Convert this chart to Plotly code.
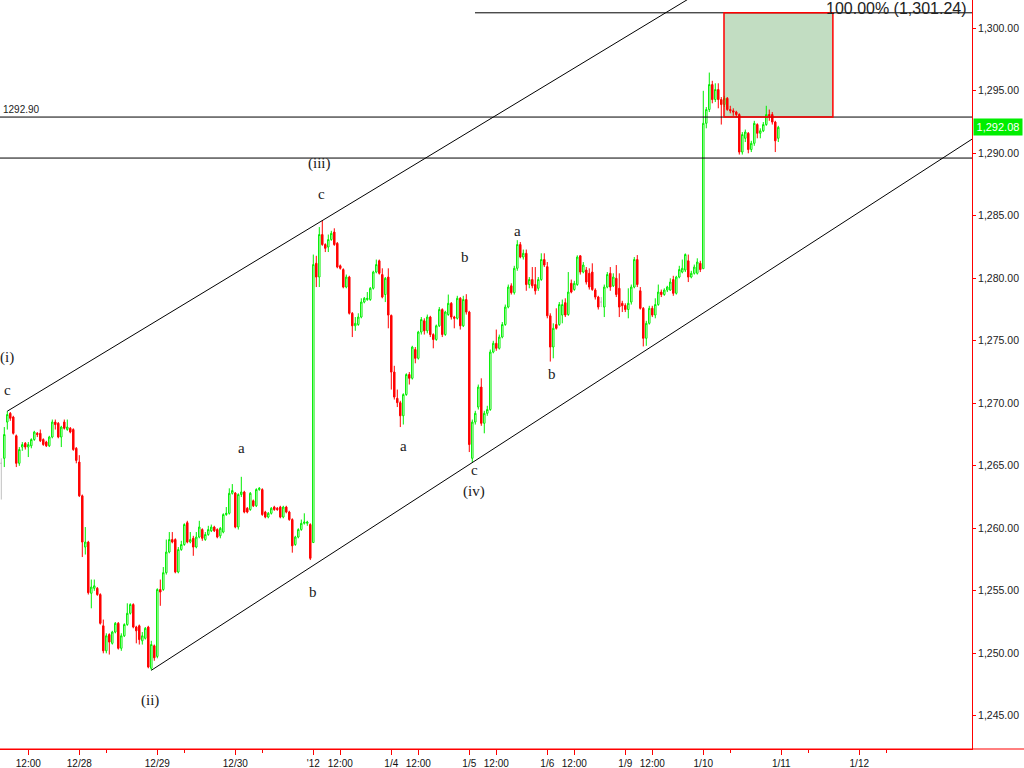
import plotly.graph_objects as go

# ---------------- data: 15-minute bars, 12/27/2011 - 1/10/2012 ----------------
OPEN = [
    1265.2, 1265.6, 1268.5, 1269.2, 1268.9, 1267.4, 1265.2, 1266.5, 1266.8, 1266.5, 1266.6, 1267.1, 1267.6,
    1267.6, 1267.1, 1266.9, 1266.6, 1267.3, 1268.5, 1268.4, 1267.3, 1268.5, 1267.9, 1268.0, 1267.9, 1266.4,
    1265.3, 1262.6, 1258.5, 1258.9, 1254.8, 1255.2, 1255.2, 1254.7, 1252.2, 1250.2, 1251.5, 1250.8, 1251.7,
    1252.4, 1250.4, 1251.4, 1252.3, 1253.2, 1253.9, 1252.1, 1252.2, 1251.0, 1251.2, 1252.1, 1248.8, 1250.6,
    1249.75, 1255.1, 1255.1, 1256.45, 1258.1, 1259.1, 1259.1, 1256.5, 1258.3, 1258.7, 1260.45, 1258.9, 1259.2,
    1258.5, 1259.3, 1259.9, 1259.1, 1259.5, 1259.8, 1260.1, 1259.9, 1259.4, 1259.7, 1261.1, 1261.2, 1262.8,
    1262.82, 1260.1, 1262.7, 1262.9, 1261.6, 1261.5, 1262.2, 1261.8, 1263.1, 1263.1, 1261.3, 1260.9, 1261.2,
    1261.7, 1261.6, 1261.7, 1260.9, 1261.7, 1261.3, 1260.7, 1258.7, 1259.3, 1259.9, 1260.4, 1260.4, 1260.3,
    1258.86, 1281.2, 1280.1, 1283.5, 1282.7, 1282.5, 1283.1, 1283.7, 1282.8, 1281.0, 1280.7, 1279.3, 1280.1,
    1277.2, 1276.2, 1276.3, 1276.9, 1278.1, 1278.3, 1278.3, 1279.2, 1280.5, 1281.4, 1280.3, 1278.7, 1280.1,
    1277.03, 1272.5, 1270.4, 1270.05, 1269.0, 1270.7, 1272.3, 1272.0, 1274.3, 1273.6, 1275.7, 1276.6, 1275.8,
    1276.9, 1275.5, 1275.1, 1276.2, 1277.5, 1275.5, 1277.1, 1278.0, 1276.9, 1276.8, 1278.4, 1276.2, 1278.3,
    1277.3, 1265.6, 1268.5, 1269.7, 1271.3, 1268.4, 1269.2, 1269.5, 1274.1, 1274.8, 1274.4, 1275.3, 1276.3,
    1277.7, 1279.4, 1278.85, 1280.8, 1282.7, 1281.7, 1282.0, 1279.5, 1279.9, 1279.5, 1279.2, 1279.9, 1281.5,
    1280.93, 1277.0, 1274.5, 1276.3, 1276.3, 1277.06, 1278.05, 1277.1, 1279.6, 1279.1, 1279.5, 1281.8, 1280.5,
    1280.66, 1280.4, 1280.5, 1279.06, 1278.5, 1278.1, 1277.7, 1279.3, 1280.4, 1279.4, 1280.0, 1279.2, 1278.0,
    1277.83, 1277.5, 1278.1, 1279.3, 1281.5, 1279.0, 1277.6, 1275.2, 1276.4, 1277.6, 1277.06, 1277.9, 1278.9,
    1278.7, 1279.06, 1279.06, 1279.9, 1278.8, 1280.1, 1280.5, 1280.66, 1281.4, 1280.1, 1280.4, 1280.4, 1281.2,
    1280.77, 1292.4, 1293.5, 1295.5, 1294.3, 1295.1, 1294.3, 1293.9, 1294.4, 1293.5, 1293.4, 1293.3, 1293.1,
    1290.1, 1291.2, 1291.6, 1290.3, 1290.8, 1292.3, 1291.6, 1291.8, 1292.3, 1293.1, 1293.1, 1292.5, 1291.2,
]
HIGH = [
    1265.6, 1268.1, 1269.37, 1269.3, 1269.0, 1267.5, 1266.5, 1266.9, 1266.9, 1266.9, 1267.2, 1267.8, 1267.7,
    1267.9, 1267.2, 1267.0, 1267.4, 1268.7, 1268.7, 1268.5, 1268.2, 1268.7, 1268.7, 1268.1, 1268.0, 1266.5,
    1265.85, 1262.7, 1260.1, 1259.0, 1255.9, 1255.9, 1255.3, 1254.8, 1252.7, 1251.6, 1251.6, 1251.8, 1252.5,
    1252.5, 1251.6, 1252.4, 1254.0, 1254.0, 1254.0, 1252.2, 1252.3, 1251.7, 1252.1, 1252.2, 1251.0, 1250.7,
    1255.2, 1255.9, 1256.9, 1259.1, 1259.7, 1259.7, 1259.2, 1258.5, 1259.0, 1260.4, 1260.6, 1259.7, 1259.4,
    1259.7, 1260.6, 1260.0, 1259.7, 1260.2, 1260.3, 1260.2, 1260.0, 1260.1, 1261.2, 1261.7, 1263.2, 1263.54,
    1262.9, 1262.8, 1264.12, 1263.0, 1261.7, 1262.9, 1262.3, 1263.2, 1263.3, 1263.2, 1261.4, 1261.3, 1261.7,
    1261.8, 1261.7, 1261.8, 1261.8, 1261.8, 1261.4, 1260.8, 1259.4, 1260.0, 1260.7, 1261.2, 1260.6, 1260.4,
    1281.9, 1281.8, 1284.1, 1284.62, 1282.8, 1283.5, 1283.8, 1284.0, 1282.9, 1281.1, 1280.8, 1280.3, 1280.2,
    1277.3, 1276.9, 1277.2, 1278.4, 1278.5, 1278.9, 1279.3, 1280.6, 1281.5, 1281.5, 1280.8, 1280.1, 1280.8,
    1277.1, 1273.0, 1271.1, 1270.2, 1270.8, 1272.4, 1272.5, 1274.6, 1274.5, 1275.8, 1276.9, 1276.8, 1277.1,
    1277.0, 1275.6, 1276.3, 1277.7, 1277.6, 1277.4, 1278.7, 1278.1, 1277.0, 1278.6, 1278.5, 1278.6, 1278.73,
    1277.4, 1268.7, 1269.4, 1271.5, 1272.0, 1269.4, 1269.8, 1274.3, 1275.0, 1275.9, 1275.5, 1276.5, 1277.9,
    1279.5, 1279.6, 1281.0, 1283.05, 1282.9, 1282.3, 1282.3, 1280.1, 1280.9, 1280.9, 1280.1, 1282.0, 1282.0,
    1281.3, 1277.2, 1276.4, 1277.6, 1278.1, 1278.3, 1278.4, 1280.5, 1279.9, 1279.8, 1281.84, 1281.84, 1281.3,
    1280.9, 1280.8, 1281.2, 1279.2, 1278.6, 1278.5, 1279.5, 1280.5, 1280.9, 1280.4, 1281.06, 1280.4, 1278.2,
    1278.0, 1279.2, 1279.5, 1281.7, 1281.86, 1279.3, 1277.7, 1276.6, 1277.8, 1277.8, 1278.4, 1279.5, 1279.1,
    1279.2, 1279.4, 1280.0, 1280.2, 1280.2, 1281.0, 1281.5, 1281.99, 1281.9, 1280.6, 1281.1, 1281.6, 1281.4,
    1295.0, 1293.7, 1296.46, 1295.8, 1295.6, 1295.6, 1294.5, 1294.6, 1294.5, 1293.8, 1293.6, 1293.4, 1293.2,
    1291.7, 1291.9, 1291.7, 1291.0, 1292.6, 1292.4, 1292.0, 1292.5, 1293.8, 1293.5, 1293.3, 1292.6, 1292.2,
]
LOW = [
    1262.3, 1264.9, 1267.9, 1268.6, 1267.5, 1264.9, 1265.0, 1266.2, 1266.3, 1265.7, 1266.4, 1267.0, 1267.3,
    1266.9, 1266.6, 1266.5, 1266.5, 1267.2, 1267.9, 1267.2, 1266.5, 1267.9, 1267.8, 1267.6, 1266.2, 1265.2,
    1262.5, 1257.7, 1257.9, 1254.7, 1253.6, 1255.0, 1254.6, 1252.3, 1250.0, 1250.0, 1249.9, 1250.7, 1251.6,
    1250.3, 1250.2, 1251.3, 1252.2, 1253.1, 1252.0, 1250.8, 1250.7, 1250.7, 1251.1, 1248.8, 1248.64, 1249.4,
    1249.6, 1253.8, 1255.0, 1256.3, 1258.0, 1258.8, 1256.4, 1256.4, 1258.2, 1258.6, 1258.8, 1258.8, 1257.8,
    1258.4, 1259.2, 1259.0, 1259.0, 1259.4, 1259.7, 1259.7, 1259.2, 1259.2, 1259.6, 1261.0, 1261.1, 1262.7,
    1260.0, 1259.9, 1262.5, 1261.2, 1261.2, 1261.4, 1261.7, 1261.7, 1263.0, 1261.0, 1260.8, 1260.8, 1261.1,
    1261.4, 1261.4, 1260.8, 1260.8, 1261.2, 1260.6, 1258.05, 1258.6, 1259.2, 1259.8, 1260.3, 1260.2, 1257.46,
    1258.86, 1279.3, 1279.3, 1282.6, 1282.1, 1282.1, 1283.0, 1282.6, 1280.8, 1280.7, 1279.2, 1279.2, 1277.1,
    1275.3, 1275.8, 1276.2, 1276.8, 1278.0, 1278.2, 1278.2, 1279.1, 1280.4, 1280.3, 1278.4, 1278.1, 1276.0,
    1271.1, 1270.3, 1269.7, 1268.1, 1268.3, 1270.6, 1271.5, 1271.9, 1273.2, 1273.5, 1275.5, 1275.5, 1275.6,
    1275.3, 1274.4, 1275.0, 1276.1, 1275.3, 1275.4, 1277.0, 1276.7, 1276.0, 1276.7, 1275.9, 1276.1, 1277.1,
    1266.1, 1265.26, 1268.3, 1269.5, 1268.2, 1267.6, 1269.0, 1269.4, 1274.0, 1274.2, 1274.3, 1275.2, 1276.2,
    1277.6, 1278.7, 1278.7, 1280.6, 1281.6, 1281.5, 1279.0, 1279.2, 1279.2, 1278.7, 1279.0, 1279.8, 1280.9,
    1276.8, 1273.34, 1273.6, 1275.9, 1276.2, 1276.4, 1276.9, 1277.0, 1278.8, 1279.0, 1279.4, 1280.3, 1280.4,
    1279.5, 1279.1, 1279.0, 1278.3, 1277.5, 1277.7, 1276.9, 1279.2, 1279.0, 1279.3, 1278.5, 1276.9, 1277.3,
    1277.3, 1276.8, 1277.9, 1279.2, 1279.3, 1277.5, 1274.55, 1274.6, 1276.3, 1276.9, 1276.8, 1277.8, 1278.5,
    1278.6, 1278.9, 1279.0, 1278.6, 1278.7, 1280.0, 1280.4, 1280.5, 1279.7, 1280.0, 1280.3, 1280.3, 1280.5,
    1280.77, 1292.0, 1293.3, 1294.0, 1294.1, 1293.6, 1292.3, 1293.7, 1293.4, 1293.2, 1293.0, 1292.9, 1289.9,
    1289.9, 1290.9, 1290.0, 1290.1, 1290.6, 1291.2, 1291.2, 1291.7, 1292.2, 1292.6, 1292.3, 1290.1, 1290.9,
]
CLOSE = [
    1265.2, 1267.5, 1269.1, 1268.8, 1267.6, 1265.2, 1266.3, 1266.7, 1266.5, 1266.7, 1267.1, 1267.7, 1267.5,
    1267.0, 1266.7, 1266.6, 1267.3, 1268.5, 1268.3, 1267.3, 1268.1, 1268.0, 1268.1, 1267.7, 1266.3, 1265.43,
    1262.6, 1258.9, 1258.9, 1254.85, 1255.3, 1255.4, 1254.7, 1252.4, 1250.2, 1251.4, 1250.9, 1251.7, 1252.4,
    1250.4, 1251.4, 1252.3, 1253.2, 1253.9, 1252.1, 1251.8, 1251.1, 1251.4, 1252.0, 1248.9, 1250.7, 1249.64,
    1255.1, 1254.9, 1256.45, 1258.1, 1259.1, 1258.9, 1256.5, 1258.3, 1258.7, 1260.3, 1258.9, 1259.1, 1258.5,
    1259.3, 1260.1, 1259.2, 1259.5, 1259.9, 1260.1, 1259.8, 1259.3, 1260.0, 1261.1, 1261.2, 1262.8, 1263.02,
    1260.1, 1262.7, 1262.9, 1261.3, 1261.3, 1262.8, 1261.8, 1263.1, 1263.2, 1261.1, 1260.9, 1261.2, 1261.6,
    1261.5, 1261.5, 1260.9, 1261.7, 1261.3, 1260.7, 1258.6, 1259.3, 1259.9, 1260.4, 1260.5, 1260.5, 1257.6,
    1281.1, 1280.1, 1283.5, 1282.7, 1282.4, 1283.1, 1283.6, 1282.7, 1280.9, 1280.8, 1279.3, 1280.1, 1277.2,
    1276.2, 1276.4, 1276.9, 1278.1, 1278.4, 1278.4, 1279.2, 1280.5, 1281.1, 1280.4, 1278.5, 1280.0, 1277.06,
    1272.5, 1270.5, 1270.05, 1269.0, 1270.7, 1272.3, 1272.0, 1274.5, 1273.6, 1275.7, 1276.7, 1275.8, 1276.9,
    1275.5, 1275.1, 1276.2, 1277.5, 1275.5, 1277.3, 1278.0, 1276.9, 1276.8, 1278.4, 1276.2, 1278.3, 1277.3,
    1266.7, 1268.5, 1269.2, 1271.3, 1268.4, 1269.2, 1269.5, 1274.1, 1274.8, 1274.4, 1275.3, 1276.3, 1277.7,
    1279.3, 1278.85, 1280.8, 1282.7, 1281.7, 1282.0, 1279.5, 1279.9, 1279.4, 1279.0, 1279.9, 1281.5, 1281.06,
    1277.0, 1274.5, 1276.0, 1276.0, 1277.9, 1277.9, 1277.06, 1278.9, 1278.9, 1279.6, 1281.7, 1280.5, 1281.06,
    1279.7, 1279.3, 1279.1, 1278.5, 1277.7, 1278.1, 1279.3, 1280.3, 1279.3, 1280.1, 1278.7, 1277.7, 1277.81,
    1277.5, 1278.0, 1279.3, 1281.5, 1279.5, 1277.6, 1275.2, 1276.4, 1277.6, 1277.06, 1277.9, 1278.9, 1278.7,
    1279.06, 1279.3, 1279.7, 1278.8, 1280.1, 1280.7, 1280.8, 1281.9, 1280.1, 1280.4, 1280.9, 1281.3, 1280.70,
    1292.4, 1293.5, 1295.5, 1294.3, 1295.1, 1294.3, 1293.9, 1294.4, 1293.5, 1293.4, 1293.3, 1293.1, 1290.1,
    1291.5, 1291.7, 1290.3, 1290.8, 1292.4, 1291.6, 1291.8, 1292.3, 1293.1, 1293.0, 1292.5, 1291.0, 1292.08,
]

BARS_PER_DAY = 26
DAY_LABELS = ["12/27", "12/28", "12/29", "12/30", "'12", "1/4", "1/5", "1/6", "1/9", "1/10", "1/11", "1/12"]
SHOW_DAY_LABEL = [False, True, True, True, True, True, True, True, True, True, True, True]
SHOW_NOON_LABEL = [True, False, False, False, True, True, True, True, True, False, False, False]

LEVEL_TARGET = 1301.24      # 100% projection
LEVEL_MID = 1292.90
LEVEL_LOW = 1289.62
LAST_PRICE = CLOSE[-1]

WAVE_LABELS = [
    ("(i)", 2, 1273.7), ("c", 2, 1271.06),
    ("(ii)", 49.6, 1246.26),
    ("a", 80, 1266.42), ("b", 104, 1254.9),
    ("(iii)", 106.2, 1289.22), ("c", 106.6, 1286.74),
    ("a", 134, 1266.58), ("b", 154.6, 1281.7),
    ("c", 157.6, 1264.66), ("(iv)", 157.6, 1262.98),
    ("a", 172, 1283.78), ("b", 183.6, 1272.34),
]

GREEN = "#00ee00"
RED = "#ff0000"
GRAY = "#c0c0c0"

X = list(range(len(OPEN)))
XR = [-0.433, 323.57]
YR = [1242.344, 1302.264]

norm = [i for i in X if OPEN[i] != CLOSE[i]]
doji = [i for i in X if OPEN[i] == CLOSE[i]]

fig = go.Figure()
fig.add_trace(go.Candlestick(
    x=[X[i] for i in norm], open=[OPEN[i] for i in norm], high=[HIGH[i] for i in norm],
    low=[LOW[i] for i in norm], close=[CLOSE[i] for i in norm],
    increasing=dict(line=dict(color=GREEN, width=1), fillcolor="white"),
    decreasing=dict(line=dict(color=RED, width=1), fillcolor=RED),
    whiskerwidth=0, hoverinfo="skip", showlegend=False,
))
fig.add_trace(go.Candlestick(
    x=[X[i] for i in doji], open=[OPEN[i] for i in doji], high=[HIGH[i] for i in doji],
    low=[LOW[i] for i in doji], close=[CLOSE[i] for i in doji],
    increasing=dict(line=dict(color=GRAY, width=1), fillcolor="white"),
    decreasing=dict(line=dict(color=GRAY, width=1), fillcolor=GRAY),
    whiskerwidth=0, hoverinfo="skip", showlegend=False,
))

# ---- channel lines from pivot bars ----
up_a, up_b = 2, 107
lo_a, lo_b = 50, 157
up_slope = (HIGH[up_b] - HIGH[up_a]) / (up_b - up_a)
lo_slope = (LOW[lo_b] - LOW[lo_a]) / (lo_b - lo_a)
up_end = 250
lo_end = XR[1]

shapes = []
# target box
box_x0, box_x1 = 240.9, 277.2
shapes.append(dict(type="rect", xref="x", yref="y", x0=box_x0, x1=box_x1, y0=LEVEL_MID, y1=LEVEL_TARGET,
                   fillcolor="#c2ddc2", line=dict(width=0), layer="below"))
# horizontal levels
shapes.append(dict(type="line", xref="x", yref="y", x0=157.9, x1=XR[1], y0=LEVEL_TARGET, y1=LEVEL_TARGET,
                   line=dict(color="black", width=1)))
for lv in (LEVEL_MID, LEVEL_LOW):
    shapes.append(dict(type="line", xref="paper", yref="y", x0=0, x1=1, y0=lv, y1=lv,
                       line=dict(color="black", width=1)))
shapes.append(dict(type="rect", xref="x", yref="y", x0=box_x0, x1=box_x1, y0=LEVEL_MID, y1=LEVEL_TARGET,
                   fillcolor="rgba(0,0,0,0)", line=dict(color=RED, width=1.5)))
# channel
shapes.append(dict(type="line", xref="x", yref="y", x0=up_a, y0=HIGH[up_a], x1=up_end,
                   y1=HIGH[up_a] + up_slope * (up_end - up_a), line=dict(color="black", width=1)))
shapes.append(dict(type="line", xref="x", yref="y", x0=lo_a, y0=LOW[lo_a], x1=lo_end,
                   y1=LOW[lo_a] + lo_slope * (lo_end - lo_a), line=dict(color="black", width=1)))
# bottom axis line running under the price scale too
shapes.append(dict(type="line", xref="paper", yref="paper", x0=0, x1=1024 / 972, y0=0, y1=0,
                   line=dict(color=RED, width=1)))

annotations = []
for txt, bx, py in WAVE_LABELS:
    annotations.append(dict(x=bx, y=py, xref="x", yref="y", text=txt, showarrow=False,
                            font=dict(family="Liberation Serif, Times New Roman, serif", size=15, color="#1a1a1a")))
annotations.append(dict(x=968 / 972, xref="paper", xanchor="right", y=LEVEL_TARGET, yref="y", yanchor="bottom",
                        yshift=-5, borderpad=0, text="100.00% (1,301.24)", showarrow=False,
                        font=dict(family="Liberation Sans, Arial, sans-serif", size=16, color="#222")))
annotations.append(dict(x=0.001, xref="paper", xanchor="left", y=LEVEL_MID, yref="y", yanchor="bottom",
                        text="1292.90", showarrow=False,
                        font=dict(family="Liberation Sans, Arial, sans-serif", size=10, color="#222")))
annotations.append(dict(x=1, xref="paper", xanchor="left", xshift=1, y=LAST_PRICE, yref="y",
                        text=f"{LAST_PRICE:,.2f}", showarrow=False, bgcolor=GREEN, width=46, height=14,
                        font=dict(family="Liberation Sans, Arial, sans-serif", size=11, color="white")))

tickvals, ticktext, minor_vals = [], [], []
for k, lab in enumerate(DAY_LABELS):
    d = k * BARS_PER_DAY
    if SHOW_DAY_LABEL[k]:
        tickvals.append(d); ticktext.append(lab)
    noon = d + 9
    if SHOW_NOON_LABEL[k]:
        tickvals.append(noon); ticktext.append("12:00")
    else:
        minor_vals.append(noon)

fig.update_layout(
    width=1024, height=768, margin=dict(l=0, r=52, t=0, b=19),
    paper_bgcolor="white", plot_bgcolor="white", showlegend=False,
    shapes=shapes, annotations=annotations,
    xaxis=dict(range=XR, rangeslider=dict(visible=False), showgrid=False, zeroline=False,
               tickmode="array", tickvals=tickvals, ticktext=ticktext,
               ticks="outside", ticklen=5, tickcolor=RED, tickwidth=1,
               showline=True, linecolor=RED, linewidth=1,
               minor=dict(tickmode="array", tickvals=minor_vals, ticks="outside", ticklen=3, tickcolor=RED),
               tickfont=dict(family="Liberation Sans, Arial, sans-serif", size=10, color="#111")),
    yaxis=dict(range=YR, side="right", showgrid=False, zeroline=False,
               tickmode="array", tickvals=[1245 + 5 * i for i in range(12)], tickformat=",.2f",
               ticks="outside", ticklen=3, tickcolor=RED, showline=True, linecolor=RED, linewidth=1,
               tickfont=dict(family="Liberation Sans, Arial, sans-serif", size=10.5, color="#222")),
)

fig.write_html("out.html", config={"displayModeBar": False},
               post_script="document.body.style.margin='0';document.body.style.overflow='hidden';")
